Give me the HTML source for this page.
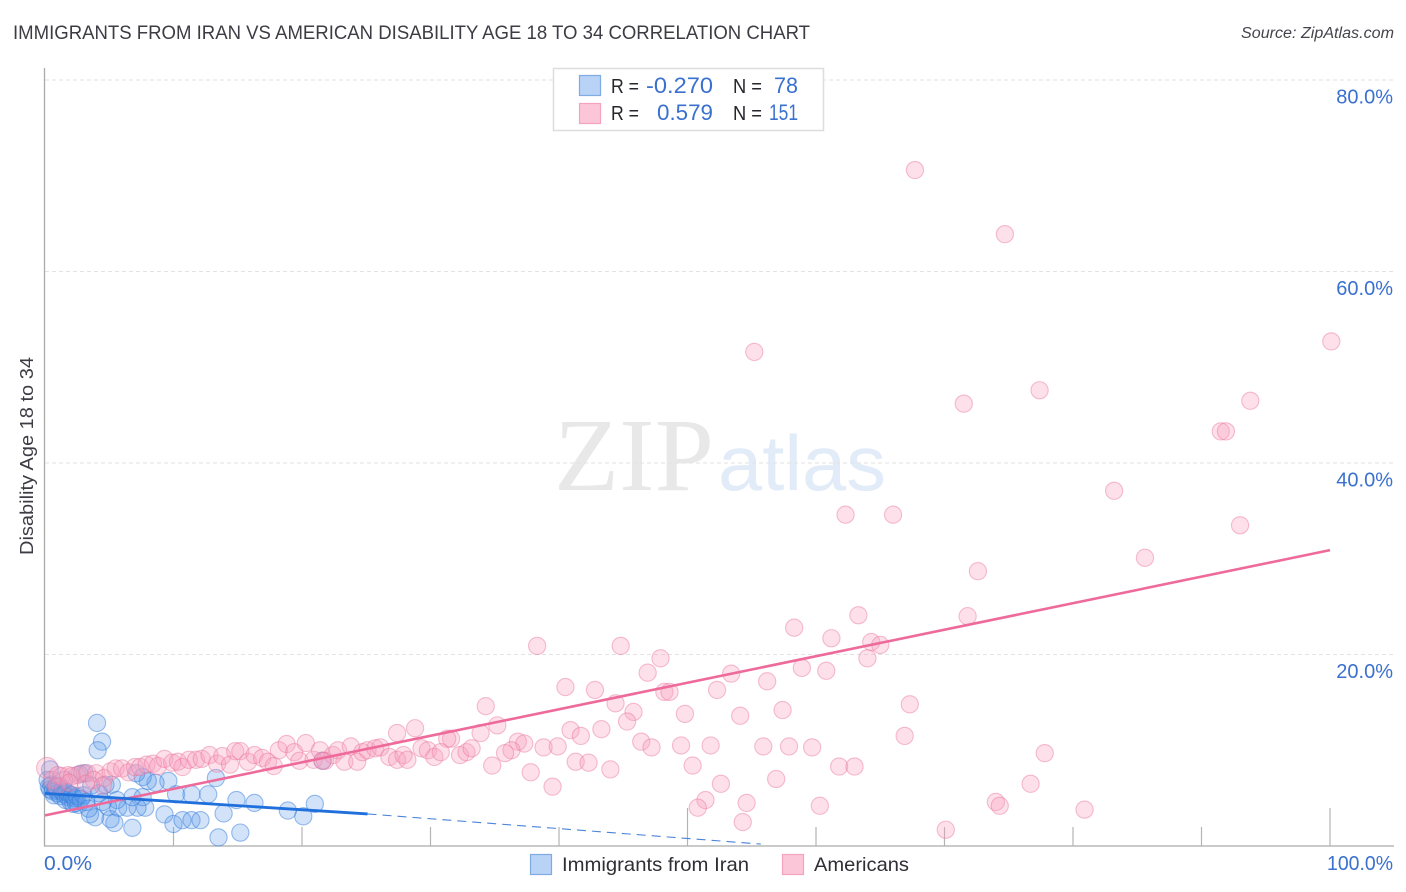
<!DOCTYPE html>
<html lang="en">
<head>
<meta charset="utf-8">
<title>Immigrants from Iran vs American Disability Age 18 to 34 Correlation Chart</title>
<style>
html,body{margin:0;padding:0;background:#fff;width:1406px;height:892px;overflow:hidden}
svg{display:block;font-family:"Liberation Sans",sans-serif}
</style>
</head>
<body>
<svg id="chart" xmlns="http://www.w3.org/2000/svg" width="1406" height="892" viewBox="0 0 1406 892">
  <rect x="0" y="0" width="1406" height="892" fill="#ffffff"/>
  <text x="13" y="39" font-size="19.5" fill="#3c3c44" textLength="797" lengthAdjust="spacingAndGlyphs">IMMIGRANTS FROM IRAN VS AMERICAN DISABILITY AGE 18 TO 34 CORRELATION CHART</text>
  <text x="1241" y="38" font-size="15.5" font-style="italic" fill="#44444c" textLength="153" lengthAdjust="spacingAndGlyphs">Source: ZipAtlas.com</text>
  <g id="watermark">
    <text x="554" y="490" font-family="'Liberation Serif',serif" font-size="104" fill="#e8e8e8" textLength="160" lengthAdjust="spacingAndGlyphs">ZIP</text>
    <text x="718" y="490" font-size="78" fill="#e2ebf8" textLength="168" lengthAdjust="spacingAndGlyphs">atlas</text>
  </g>
  <g id="grid"></g>
  <g id="axes"></g>
  <g id="points-blue"></g>
  <g id="points-pink"></g>
  <g id="trends"></g>
  <g id="labels"></g>
  <text transform="translate(33,456) rotate(-90)" font-size="18" fill="#3c3c44" text-anchor="middle" textLength="198" lengthAdjust="spacingAndGlyphs">Disability Age 18 to 34</text>

  <g>
    <rect x="553.5" y="68.5" width="270" height="62" fill="#ffffff" stroke="#dddddd" stroke-width="1.5"/>
    <rect x="579.5" y="75.5" width="21" height="20" fill="#b9d3f6" stroke="#7fabe3" stroke-width="1.2"/>
    <rect x="579.5" y="103.5" width="21" height="20" fill="#fcc6d9" stroke="#f4a3bf" stroke-width="1.2"/>
    <text x="611" y="93" font-size="20" fill="#26262c" textLength="28" lengthAdjust="spacingAndGlyphs">R =</text>
    <text x="646" y="93" font-size="22" fill="#3a70cf" textLength="67" lengthAdjust="spacingAndGlyphs">-0.270</text>
    <text x="733" y="93" font-size="20" fill="#26262c" textLength="29" lengthAdjust="spacingAndGlyphs">N =</text>
    <text x="774" y="93" font-size="22" fill="#3a70cf" textLength="24" lengthAdjust="spacingAndGlyphs">78</text>
    <text x="611" y="120" font-size="20" fill="#26262c" textLength="28" lengthAdjust="spacingAndGlyphs">R =</text>
    <text x="657" y="120" font-size="22" fill="#3a70cf" textLength="56" lengthAdjust="spacingAndGlyphs">0.579</text>
    <text x="733" y="120" font-size="20" fill="#26262c" textLength="29" lengthAdjust="spacingAndGlyphs">N =</text>
    <text x="769" y="120" font-size="22" fill="#3a70cf" textLength="29" lengthAdjust="spacingAndGlyphs">151</text>
  </g>

  <g>
    <rect x="530.5" y="854.5" width="21" height="20" fill="#b9d3f6" stroke="#7fabe3" stroke-width="1.2"/>
    <text x="562" y="871" font-size="19.5" fill="#2e2e34" textLength="187" lengthAdjust="spacingAndGlyphs">Immigrants from Iran</text>
    <rect x="782.5" y="854.5" width="21" height="20" fill="#fcc6d9" stroke="#f4a3bf" stroke-width="1.2"/>
    <text x="814" y="871" font-size="19.5" fill="#2e2e34" textLength="95" lengthAdjust="spacingAndGlyphs">Americans</text>
  </g>
</svg>
<script>
const yTickValues = [20, 40, 60, 80];
const yTickLabels = ["20.0%", "40.0%", "60.0%", "80.0%"];
const xTickValues = [10, 20, 30, 40, 50, 60, 70, 80, 90, 100];
const xEndValues = [0, 100];
const xEndLabels = ["0.0%", "100.0%"];

const iranX = [4.05,4.44,4.1,13.3,21.6,9.6,8.6,8.0,7.6,7.1,5.2,4.7,3.1,10.2,11.4,12.7,14.9,16.3,18.9,20.1,21.0,13.9,9.3,10,10.7,11.4,12.1,13.5,15.2,6.8,5.4,5.1,3.9,3.5,7.8,7.2,6.4,6.8,7.6,5.6,4.9,5.7,4.5,0.2,0.3,0.4,0.5,0.6,0.7,0.8,0.9,1.0,1.1,1.2,1.3,1.4,1.5,1.6,1.7,1.8,1.9,2.0,2.1,2.2,2.3,2.4,2.5,2.6,2.8,3.0,3.2,3.4,0.4,1.5,2.7,3.6,4.2];
const iranY = [12.85,10.9,10.0,7.1,8.9,6.8,6.6,6.8,7.2,7.6,6.4,6.4,7.6,5.4,5.4,5.4,4.8,4.5,3.7,3.1,4.4,3.4,3.3,2.3,2.7,2.7,2.7,0.9,1.4,1.9,2.4,2.8,3.0,3.3,4.0,4.0,4.0,5.1,5.1,4.8,4.1,4.0,4.6,6.9,6.2,5.9,6.4,5.7,5.3,6.1,5.8,5.5,6.3,5.2,5.7,6.0,5.4,4.8,5.6,5.1,5.4,4.6,5.3,4.4,5.0,4.5,5.2,4.3,4.9,5.3,4.6,3.9,8.0,6.9,7.5,6.3,5.5];

const americansX = [67.7,74.7,55.2,100.1,71.5,77.4,93.8,91.5,91.9,83.2,62.3,66.0,93.0,85.6,72.6,63.3,71.8,58.3,61.2,64.3,65.0,64.0,38.3,44.8,47.9,58.9,60.8,53.4,46.9,56.2,40.5,42.8,48.2,48.6,52.3,44.4,34.3,67.3,57.4,49.8,45.8,45.3,54.1,35.2,28.8,40.9,43.3,27.4,41.7,66.9,33.9,31.6,31.3,46.4,47.2,49.5,51.8,55.9,57.9,59.7,38.8,39.9,36.8,37.3,36.3,35.8,77.8,50.4,41.3,42.3,44.0,34.8,37.8,61.8,63,56.9,52.6,76.7,39.5,51.4,50.8,54.6,60.3,74,74.3,80.9,54.3,70.1,0.16,0.54,1.0,1.3,1.8,2.1,2.5,2.9,3.3,4.0,4.6,5.1,5.5,6.0,6.5,7.0,7.4,7.9,8.4,8.8,9.3,9.9,10.35,10.7,11.2,11.75,12.2,12.8,13.4,13.8,14.4,14.8,15.2,15.8,16.3,16.9,17.35,17.8,18.2,18.8,19.4,19.8,20.3,20.9,21.4,21.8,22.4,22.8,23.3,23.8,24.3,24.7,25.1,25.7,26.1,26.8,27.4,27.9,28.2,29.3,29.8,30.3,30.8,32.3,32.8,33.2,0.9,1.9,3.2,3.8,4.5,21.6];
const americansY = [70.6,63.9,51.6,52.7,46.2,47.6,46.5,43.3,43.3,37.1,34.6,34.6,33.5,30.1,28.7,24.1,24.0,22.8,21.7,21.3,21.0,19.6,20.9,20.9,19.6,18.6,18.3,18.0,18.1,17.2,16.6,16.3,16.1,16.1,16.3,14.9,14.6,14.8,14.2,13.8,14.0,13.0,13.6,12.6,12.3,12.1,12.2,11.8,11.5,11.5,11.8,11.2,11.2,10.9,10.3,10.5,10.5,10.4,10.4,10.3,10.3,10.4,10.9,10.7,10.0,9.7,9.7,8.4,8.8,8.7,8.0,8.4,7.7,8.3,8.3,7.0,6.5,6.5,6.2,4.8,4.0,4.5,4.2,4.6,4.2,3.8,2.5,1.7,8.15,6.9,7.4,7.3,7.4,7.3,7.4,7.6,7.6,7.6,7.1,7.8,8.1,8.1,7.7,8.25,8.25,8.5,8.6,8.35,9.1,8.7,8.8,8.25,9.0,9.0,9.1,9.5,8.6,9.4,8.5,9.9,9.9,8.8,9.5,9.2,8.8,8.35,10.0,10.65,9.8,8.9,10.75,9.0,10.0,8.9,9.5,10.0,8.8,10.4,8.8,9.8,10.0,10.2,10.3,9.3,9.0,9.5,9.0,10.2,10.0,9.3,9.8,9.5,9.8,10.2,6.2,6.6,6.5,6.9,6.3,8.9];

const iranTrendX = [0, 25.1];
const iranTrendY = [5.5, 3.35];
const iranDashX = [25.1, 55.7];
const iranDashY = [3.35, 0.2];
const americansTrendX = [0, 100];
const americansTrendY = [3.2, 30.9];

const NS = 'http://www.w3.org/2000/svg';
const X_ZERO = 45, X_SCALE = 12.85, Y_ZERO = 846, Y_SCALE = 9.575;
function xPos(v) { return X_ZERO + v * X_SCALE; }
function yPos(v) { return Y_ZERO - v * Y_SCALE; }
function make(tag, attrs, parent) {
  const el = document.createElementNS(NS, tag);
  for (const k in attrs) el.setAttribute(k, attrs[k]);
  parent.appendChild(el);
  return el;
}

const grid = document.getElementById('grid');
const axes = document.getElementById('axes');
const labels = document.getElementById('labels');
const pointsBlue = document.getElementById('points-blue');
const pointsPink = document.getElementById('points-pink');
const trends = document.getElementById('trends');

yTickValues.forEach(function (v, i) {
  const g = make('line', {x1: 45, x2: 1394, y1: yPos(v), y2: yPos(v), stroke: '#e2e2e2', 'stroke-width': 1, 'stroke-dasharray': '4 3'}, grid);
  
  
  const t = make('text', {x: 1393, y: yPos(v) + 23.5, 'font-size': 20, fill: '#3a70cf', 'text-anchor': 'end'}, labels);
  t.textContent = yTickLabels[i];
  
  
});

const yAxisLine = make('line', {x1: 44.5, x2: 44.5, y1: 68, y2: 846.5, stroke: '#aaaaaa', 'stroke-width': 1.3}, axes);


const xAxisLine = make('line', {x1: 44, x2: 1394, y1: 846, y2: 846, stroke: '#aaaaaa', 'stroke-width': 1.3}, axes);



xTickValues.forEach(function (v) {
  const tall = v === 50 || v === 100;
  const tick = make('line', {x1: xPos(v), x2: xPos(v), y1: tall ? 808 : 827, y2: 846, stroke: '#b4b4b4', 'stroke-width': 1.2}, axes);
  
  
});

xEndValues.forEach(function (v, i) {
  const t = make('text', {x: i === 0 ? xPos(v) - 1 : xPos(v) - 3, y: 870, 'font-size': 20, fill: '#3a70cf', textLength: i === 0 ? 48 : 66, lengthAdjust: 'spacingAndGlyphs'}, labels);
  t.textContent = xEndLabels[i];
  
  
});

iranX.forEach(function (v, i) {
  const c = make('circle', {cx: xPos(v), cy: yPos(iranY[i]), r: 8.6, fill: 'rgba(95,155,235,0.28)', stroke: 'rgba(55,125,220,0.5)', 'stroke-width': 1.1}, pointsBlue);
  
  
});
americansX.forEach(function (v, i) {
  const c = make('circle', {cx: xPos(v), cy: yPos(americansY[i]), r: i === 88 ? 10.5 : 8.6, fill: 'rgba(248,160,190,0.32)', stroke: 'rgba(232,115,155,0.45)', 'stroke-width': 1.1}, pointsPink);
  
  
});

const tPink = make('line', {x1: xPos(americansTrendX[0]), y1: yPos(americansTrendY[0]), x2: xPos(americansTrendX[1]), y2: yPos(americansTrendY[1]), stroke: '#ee6a9a', 'stroke-width': 2.6}, trends);


const tBlue = make('line', {x1: xPos(iranTrendX[0]), y1: yPos(iranTrendY[0]), x2: xPos(iranTrendX[1]), y2: yPos(iranTrendY[1]), stroke: '#1f6fdc', 'stroke-width': 2.8}, trends);


const tDash = make('line', {x1: xPos(iranDashX[0]), y1: yPos(iranDashY[0]), x2: xPos(iranDashX[1]), y2: yPos(iranDashY[1]), stroke: '#4a84d8', 'stroke-width': 1.1, 'stroke-dasharray': '9 6'}, trends);


</script>
</body>
</html>
